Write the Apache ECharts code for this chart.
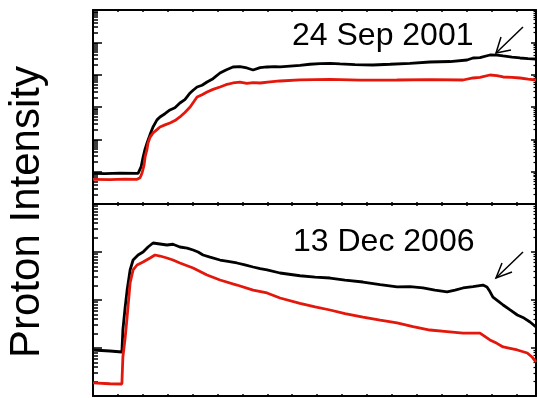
<!DOCTYPE html>
<html>
<head>
<meta charset="utf-8">
<script src="https://cdn.jsdelivr.net/npm/echarts@6/dist/echarts.min.js"></script>
<style>
  html, body { margin: 0; padding: 0; background: #fff; }
  #chart { width: 538px; height: 398px; }
</style>
</head>
<body>
<div id="chart"></div>
<script>
// ---- Data (x in minor-tick time units, y in intensity, log scale) ----
const panelTitles = ['24 Sep 2001', '13 Dec 2006'];
const yAxisTitle = 'Proton Intensity';

// Top panel (24 Sep 2001)
const topBlackX = [0, 0.48, 1.08, 1.81, 1.93, 2.01, 2.09, 2.17, 2.29, 2.41, 2.57, 2.69, 2.89, 3.09, 3.29, 3.49, 3.69, 3.90, 4.02, 4.18, 4.38, 4.58, 4.82, 5.10, 5.34, 5.62, 5.90, 6.18, 6.43, 6.71, 6.99, 7.31, 7.51, 7.91, 8.31, 8.71, 9.12, 9.52, 9.92, 10.52, 11.24, 11.93, 12.73, 13.53, 14.34, 15.02, 15.26, 15.54, 15.94, 16.22, 16.47, 16.83, 17.15, 17.47, 17.79];
const topBlackY = [8.9, 8.7, 9.0, 8.9, 14, 28, 50, 77, 140, 241, 400, 491, 620, 808, 950, 1331, 1700, 2712, 3300, 4159, 4700, 5940, 7500, 11270, 14000, 17290, 17800, 16100, 13960, 16500, 17290, 17800, 17290, 18500, 19500, 21000, 22000, 22490, 21500, 20500, 19920, 21000, 22500, 24660, 25500, 28450, 32810, 33500, 40620, 40000, 37840, 35000, 32810, 31500, 30550];

const topRedX = [0, 0.68, 1.29, 1.77, 1.89, 1.97, 2.05, 2.09, 2.17, 2.21, 2.29, 2.41, 2.57, 2.69, 2.89, 3.09, 3.29, 3.49, 3.69, 3.90, 4.06, 4.18, 4.38, 4.58, 4.82, 5.10, 5.34, 5.62, 5.90, 6.18, 6.43, 6.71, 7.11, 7.51, 8.31, 9.52, 10.72, 12.21, 13.53, 14.86, 15.26, 15.54, 15.94, 16.22, 16.47, 16.83, 17.15, 17.47, 17.79];
const topRedY = [5.8, 5.7, 5.9, 5.8, 6.5, 9.1, 16, 28, 50, 77, 115, 157, 200, 241, 280, 320, 380, 491, 680, 1000, 1500, 2040, 2400, 2912, 3500, 4159, 4900, 5530, 5900, 5400, 5700, 5530, 6000, 6380, 6900, 7190, 6800, 6840, 7000, 6840, 7890, 8300, 9770, 9400, 8480, 8200, 7890, 7300, 6840];

// Bottom panel (13 Dec 2006)
const botBlackX = [0, 0.68, 1.16, 1.20, 1.29, 1.37, 1.49, 1.61, 1.81, 2.01, 2.21, 2.41, 2.69, 2.97, 3.21, 3.49, 3.78, 4.02, 4.22, 4.42, 4.70, 5.10, 5.42, 5.78, 6.10, 6.43, 6.71, 6.99, 7.51, 8.31, 8.92, 9.52, 10.12, 10.84, 11.53, 12.21, 12.73, 13.25, 13.73, 14.22, 14.54, 14.86, 15.26, 15.66, 15.82, 15.94, 16.06, 16.27, 16.47, 16.75, 17.04, 17.31, 17.55, 17.79];
const botBlackY = [9.09, 8.66, 8.25, 23.7, 70, 161, 422, 681, 866, 1000, 1271, 1540, 1468, 1399, 1450, 1271, 1200, 1101, 1000, 866, 780, 681, 640, 590, 540, 487, 450, 422, 365, 320, 300, 287, 260, 237, 210, 187, 190, 178, 160, 147, 160, 178, 190, 205, 187, 150, 115, 95, 78.7, 62, 48.7, 42, 34.8, 27.4];

const botRedX = [0, 0.68, 1.16, 1.20, 1.29, 1.37, 1.49, 1.61, 1.77, 2.01, 2.29, 2.49, 2.69, 2.97, 3.21, 3.49, 4.02, 4.58, 5.10, 5.78, 6.43, 6.99, 7.51, 8.31, 8.92, 9.52, 10.12, 10.84, 11.53, 12.21, 12.85, 13.53, 14.22, 14.86, 15.54, 15.94, 16.22, 16.47, 16.75, 17.04, 17.44, 17.63, 17.79];
const botRedY = [1.87, 1.80, 1.78, 6.49, 16, 44.2, 226, 422, 536, 619, 750, 866, 825, 750, 680, 590, 464, 332, 261, 205, 161, 140, 110, 85, 72, 61.9, 52, 44.2, 38, 33.2, 28, 23.7, 22, 20.5, 20.5, 14.7, 12.5, 10.5, 9.8, 9.09, 7.87, 6.5, 5.1];

const xMax = 17.79;
const topYMax = 1e6;
const botYMax = 1e4;

function pairs(xs, ys) { return xs.map((x, i) => [x, ys[i]]); }

const BLACK = '#000000';
const RED = '#e4170c';

function xAxes(gridIndex) {
  const base = {
    type: 'value', gridIndex, min: 0, max: xMax, interval: 1,
    axisLine: { show: true, onZero: false, lineStyle: { color: BLACK, width: 2 } },
    axisTick: { show: true, inside: true, length: 2, lineStyle: { color: BLACK, width: 1.5 } },
    axisLabel: { show: false }, splitLine: { show: false }
  };
  return [
    Object.assign({}, base, { position: 'bottom' }),
    Object.assign({}, base, { position: 'top' })
  ];
}
function yAxes(gridIndex, max) {
  const common = {
    type: 'log', gridIndex, min: 1, max: max, logBase: 10,
    axisLabel: { show: false }, splitLine: { show: false }
  };
  return [
    Object.assign({}, common, {
      position: 'left',
      axisLine: { show: true, onZero: false, lineStyle: { color: BLACK, width: 2 } },
      axisTick: { show: true, inside: true, length: 9, lineStyle: { color: BLACK, width: 1.5 } },
      minorTick: { show: true, splitNumber: 9, length: 5, lineStyle: { color: BLACK, width: 1.5 } }
    }),
    Object.assign({}, common, {
      position: 'right',
      axisLine: { show: true, onZero: false, lineStyle: { color: BLACK, width: 2 } },
      axisTick: { show: true, inside: true, length: 5, lineStyle: { color: BLACK, width: 1.5 } },
      minorTick: { show: true, splitNumber: 9, length: 2.5, lineStyle: { color: BLACK, width: 1.2 } }
    })
  ];
}

const lineBase = { type: 'line', showSymbol: false, symbol: 'none', animation: false, z: 3 };

const option = {
  animation: false,
  backgroundColor: '#ffffff',
  grid: [
    { left: 93, top: 10, width: 443, height: 194, containLabel: false },
    { left: 93, top: 204, width: 443, height: 192, containLabel: false }
  ],
  xAxis: xAxes(0).concat(xAxes(1)),
  yAxis: yAxes(0, topYMax).concat(yAxes(1, botYMax)),
  series: [
    Object.assign({}, lineBase, { name: 'top-black', xAxisIndex: 0, yAxisIndex: 0, data: pairs(topBlackX, topBlackY), lineStyle: { color: BLACK, width: 2.8 } }),
    Object.assign({}, lineBase, { name: 'top-red', xAxisIndex: 0, yAxisIndex: 0, data: pairs(topRedX, topRedY), lineStyle: { color: RED, width: 2.8 } }),
    Object.assign({}, lineBase, { name: 'bot-black', xAxisIndex: 2, yAxisIndex: 2, data: pairs(botBlackX, botBlackY), lineStyle: { color: BLACK, width: 2.8 } }),
    Object.assign({}, lineBase, { name: 'bot-red', xAxisIndex: 2, yAxisIndex: 2, data: pairs(botRedX, botRedY), lineStyle: { color: RED, width: 2.8 } })
  ],
  graphic: [
    { type: 'text', left: 292, top: 20, style: { text: panelTitles[0], fill: BLACK, font: '32px "Liberation Sans", Arial, sans-serif' } },
    { type: 'text', left: 293, top: 226, style: { text: panelTitles[1], fill: BLACK, font: '32px "Liberation Sans", Arial, sans-serif' } },
    { type: 'text', x: 27, y: 212, rotation: Math.PI / 2,
      style: { text: yAxisTitle, fill: BLACK, font: '42px "Liberation Sans", Arial, sans-serif', align: 'center', verticalAlign: 'middle' } },
    { type: 'polyline', shape: { points: [[523, 27], [496, 53]] }, style: { stroke: BLACK, lineWidth: 1.5, fill: null } },
    { type: 'polyline', shape: { points: [[501, 37], [496, 53], [511, 50]] }, style: { stroke: BLACK, lineWidth: 1.5, fill: null } },
    { type: 'polyline', shape: { points: [[523, 252], [496, 278]] }, style: { stroke: BLACK, lineWidth: 1.5, fill: null } },
    { type: 'polyline', shape: { points: [[502, 263], [496, 278], [512, 272]] }, style: { stroke: BLACK, lineWidth: 1.5, fill: null } }
  ]
};

const chart = echarts.init(document.getElementById('chart'), null, { renderer: 'canvas' });
chart.setOption(option);
</script>
</body>
</html>
